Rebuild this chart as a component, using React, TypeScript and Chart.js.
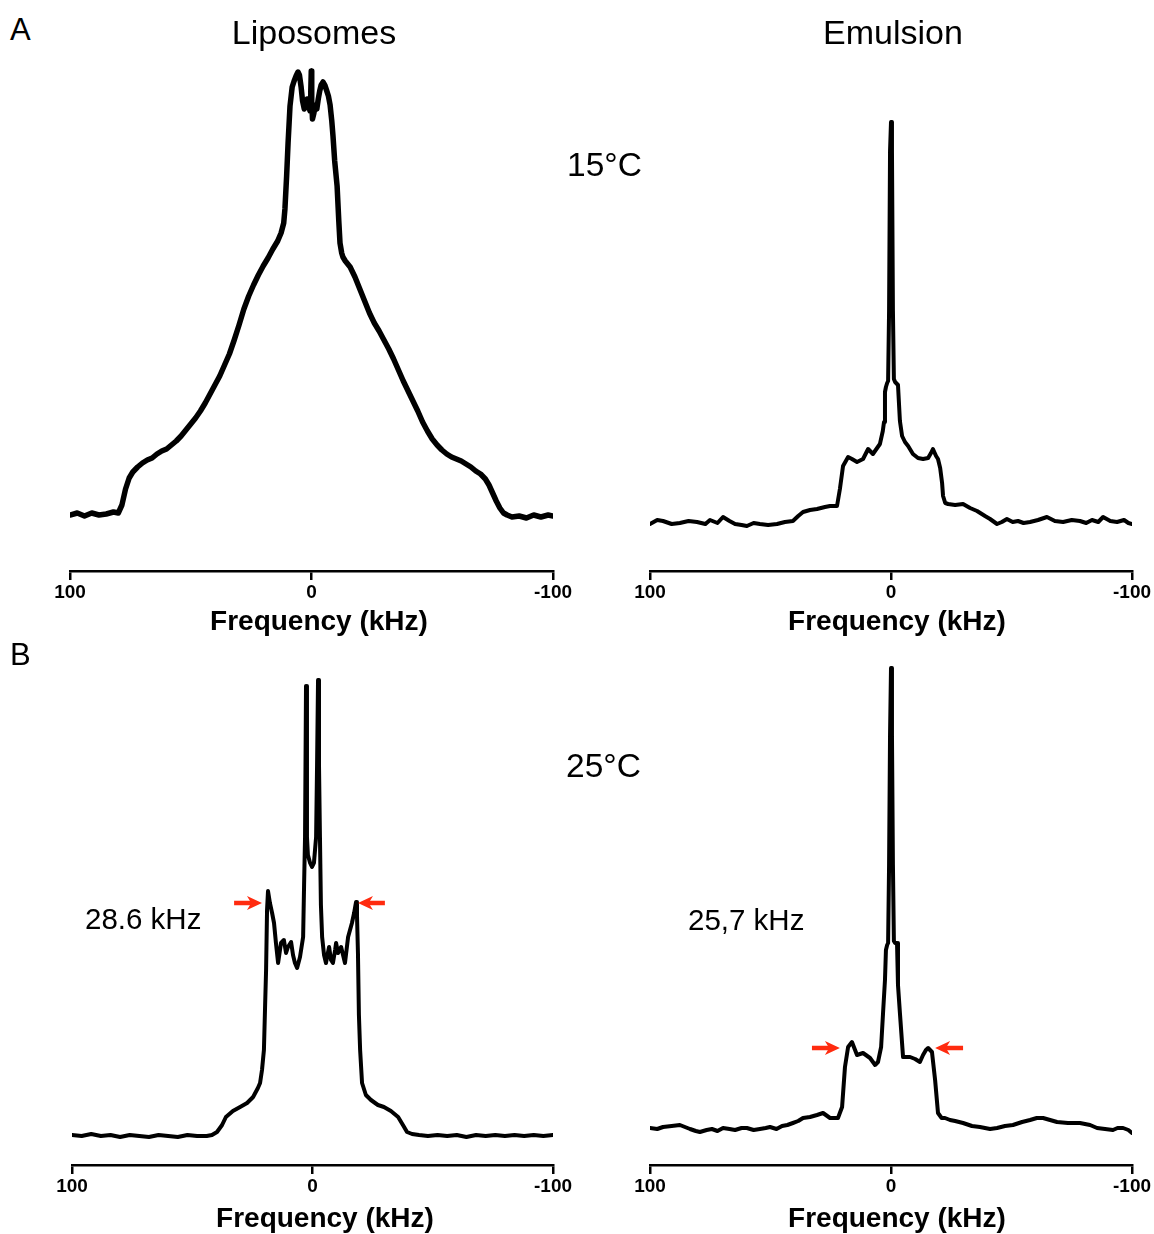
import React, { useEffect, useRef } from "react";
import { Chart, registerables } from "chart.js";

Chart.register(...registerables);

const FONT = '"Liberation Sans", Arial, Helvetica, sans-serif';

// ---------------- DATA ----------------
// x: frequency (kHz), y: signal intensity (a.u., height above the frequency axis)

const xTicks = [100, 0, -100];
const xTitle = "Frequency (kHz)";

// A – Liposomes, 15 °C
const lipo15Freq = [100, 97, 94, 91, 88, 85, 82, 80, 78.5, 77, 75.5, 74, 72, 70, 68, 66, 64, 62, 60, 58, 56, 54, 52, 50, 48, 46, 44, 42, 40, 38, 36, 34, 32, 30, 28, 26, 24, 22, 20, 18, 16, 14, 12.6, 11.5, 11, 10.3, 9.7, 8.9, 8, 7.2, 6.4, 5.6, 5, 4.3, 3.7, 3, 2.4, 1.8, 1.2, 0.6, 0.3, 0.1, -0.1, -0.4, -1, -1.6, -2.2, -2.8, -3.4, -4, -4.8, -5.5, -6.2, -7, -7.7, -8.4, -8.9, -9.6, -10.6, -11.3, -11.8, -12.5, -13, -14, -16, -18, -20, -22, -24, -26, -28, -30, -32, -34, -36, -38, -40, -42, -44, -46, -48, -50, -52, -54, -56, -58, -60, -62, -64, -66, -68, -70, -72, -73.5, -75, -76.5, -78, -79.5, -81, -83, -86, -89, -92, -95, -98, -100];
const lipo15Int = [56, 58, 55, 58, 56, 57, 59, 58, 66, 82, 93, 99, 104, 108, 111, 113, 117, 120, 122, 126, 130, 135, 141, 147, 153, 160, 168, 177, 186, 195, 206, 217, 231, 246, 262, 275, 286, 296, 305, 313, 322, 330, 338, 348, 362, 395, 428, 465, 484, 490, 495, 499, 496, 484, 470, 462, 467, 472, 466, 460, 480, 500, 470, 452, 458, 466, 462, 472, 480, 486, 489, 486, 481, 475, 466, 450, 435, 410, 385, 350, 328, 318, 314, 310, 304, 294, 282, 270, 258, 248, 240, 231, 222, 212, 201, 190, 180, 170, 160, 149, 140, 132, 126, 121, 117, 114, 112, 110, 107, 104, 100, 97, 92, 86, 78, 70, 63, 58, 56, 54, 55, 53, 56, 54, 56, 55];

// A – Emulsion, 15 °C
const emul15Freq = [100, 97, 94.6, 91, 87.6, 84, 80.5, 77, 75.1, 72, 69.7, 67, 64.7, 62, 59.8, 57, 54.4, 51, 47.3, 44, 40.7, 38.5, 36.5, 33.6, 30.7, 27.4, 25.3, 22.4, 21.2, 19.9, 17.8, 16.2, 14.1, 11.6, 9.5, 7.5, 4.6, 3.4, 2.9, 2.5, 2.1, 1.6, 1.2, 0.8, 0.4, 0, -0.4, -0.8, -1.2, -1.7, -2.9, -3.7, -4.6, -5.8, -7.1, -9.1, -11.2, -13.3, -15.4, -16.6, -17.4, -18.7, -19.5, -20.4, -21.2, -21.6, -22.5, -23.7, -26.6, -29.9, -32.8, -35.7, -39, -41.1, -44, -46, -48.1, -50.5, -52.7, -55, -57.7, -61, -64.7, -68, -71.4, -75, -78.4, -81, -83.4, -86, -88, -91, -93.8, -96.7, -98.5, -100];
const emul15Int = [47, 51, 50, 47, 48, 50, 49, 47, 51, 48, 54, 50, 47, 46, 45, 48, 47, 46, 47, 49, 50, 55, 59, 61, 62, 64, 65, 65, 82, 105, 114, 112, 109, 112, 122, 117, 127, 140, 149, 179, 184, 188, 190, 260, 420, 449, 420, 260, 192, 189, 186, 150, 135, 129, 125, 117, 113, 112, 113, 118, 122, 115, 112, 103, 88, 75, 68, 67, 66, 67, 63, 60, 55, 52, 47, 49, 52, 49, 50, 48, 49, 51, 54, 50, 49, 51, 50, 48, 51, 49, 54, 50, 49, 51, 48, 47];

// B – Liposomes, 25 °C
const lipo25Freq = [100, 96, 92, 88, 84, 80, 76, 72, 68, 64, 60, 56, 52, 48, 44, 41.8, 39.7, 37.6, 36, 33.1, 30.1, 27.2, 24.7, 22.7, 21.8, 21, 20.2, 19.7, 19.3, 18.9, 18.5, 17.7, 16.8, 16, 15.2, 14.3, 13.1, 11.9, 11, 10.2, 8.9, 8.1, 7.3, 6.4, 5.2, 3.9, 3.5, 3.1, 2.7, 2.3, 1.9, 1, 0.2, -0.6, -1.5, -1.9, -2.3, -2.7, -3.1, -3.5, -4, -4.8, -5.6, -6.4, -6.9, -7.7, -8.5, -9.4, -9.8, -10.6, -11.9, -12.7, -13.5, -14.3, -14.8, -15.6, -16.4, -17.3, -18.1, -18.5, -18.9, -19.3, -19.8, -20.6, -22.2, -24.3, -27.2, -29.7, -32.6, -35.6, -37.6, -39.3, -41.4, -44.3, -48, -52, -56, -60, -64, -68, -72, -76, -80, -84, -88, -92, -96, -100];
const lipo25Int = [30, 29, 31, 29, 30, 28, 30, 29, 28, 30, 29, 28, 30, 29, 29, 30, 33, 40, 48, 54, 58, 62, 68, 77, 82, 95, 115, 160, 195, 255, 274, 262, 252, 242, 222, 202, 222, 225, 212, 218, 223, 210, 202, 197, 208, 228, 280, 328, 479, 328, 310, 302, 298, 302, 328, 400, 485, 400, 328, 260, 228, 210, 202, 212, 218, 205, 202, 215, 222, 212, 218, 210, 202, 218, 228, 235, 242, 252, 263, 250, 212, 150, 115, 82, 70, 65, 60, 58, 54, 48, 40, 33, 31, 30, 29, 30, 29, 30, 28, 30, 29, 30, 29, 30, 29, 30, 29, 30];

// B – Emulsion, 25 °C
const emul25Freq = [100, 97, 94.6, 91, 87.6, 85.5, 83.4, 81, 79.3, 76.5, 74.3, 72, 69.7, 67, 64.7, 62, 59.8, 57, 54.4, 52, 50.2, 47.5, 45.2, 43, 40.7, 38.5, 36.5, 33.6, 30.7, 28.2, 25.3, 22, 20.3, 19.1, 17.8, 16.2, 14.1, 11.6, 8.7, 6.6, 5.4, 4.1, 3.3, 2.5, 2.1, 1.6, 1.2, 0.8, 0.4, 0, -0.4, -0.8, -1.2, -1.7, -2.5, -2.9, -3.7, -5, -6.2, -7.9, -10, -12, -13.3, -14.5, -15.4, -17, -18.3, -19.5, -21, -22.4, -24.5, -26.6, -29.9, -33.6, -36.9, -39, -41.1, -44, -47.3, -50.6, -54.4, -57.7, -60.5, -63.1, -66, -68.9, -73.4, -78.4, -82.6, -85.5, -88.8, -92.1, -94, -96.3, -98.5, -100];
const emul25Int = [37, 36, 38, 39, 40, 38, 36, 34, 33, 35, 36, 34, 37, 36, 35, 37, 37, 35, 36, 37, 38, 36, 39, 40, 42, 44, 47, 48, 50, 52, 47, 47, 58, 98, 118, 123, 110, 112, 107, 100, 103, 118, 152, 185, 215, 220, 222, 300, 430, 497, 430, 300, 224, 222, 222, 180, 152, 108, 108, 108, 106, 103, 110, 115, 117, 113, 85, 52, 47, 47, 45, 44, 42, 39, 38, 37, 36, 37, 39, 40, 43, 45, 47, 47, 45, 43, 42, 42, 40, 37, 36, 35, 37, 37, 35, 32];

// Splitting markers (red arrows): tail / head frequency (kHz) and level (a.u.)
const lipo25ArrowTail = [32.6, -30.1];
const lipo25ArrowHead = [21.0, -18.9];
const lipo25ArrowLevel = [262, 262];

const emul25ArrowTail = [32.8, -29.9];
const emul25ArrowHead = [21.2, -18.3];
const emul25ArrowLevel = [117, 117];

// ---------------- PLUGIN ----------------
const arrowPlugin = {
  id: "splitArrows",
  afterDatasetsDraw(chart: any, _args: any, opts: any) {
    const items = (opts && opts.items) || [];
    const { ctx } = chart;
    const xs = chart.scales.x;
    const ys = chart.scales.y;
    ctx.save();
    ctx.fillStyle = "#ff2b0f";
    ctx.strokeStyle = "#ff2b0f";
    for (const a of items) {
      const x0 = xs.getPixelForValue(a.tail);
      const x1 = xs.getPixelForValue(a.head);
      const yy = ys.getPixelForValue(a.level);
      const dir = Math.sign(x1 - x0);
      const headLen = 15;
      const headHalf = 7;
      ctx.lineWidth = 4.5;
      ctx.lineCap = "butt";
      ctx.beginPath();
      ctx.moveTo(x0, yy);
      ctx.lineTo(x1 - dir * headLen * 0.6, yy);
      ctx.stroke();
      ctx.beginPath();
      ctx.moveTo(x1, yy);
      ctx.lineTo(x1 - dir * headLen, yy - headHalf);
      ctx.lineTo(x1 - dir * headLen * 0.72, yy);
      ctx.lineTo(x1 - dir * headLen, yy + headHalf);
      ctx.closePath();
      ctx.fill();
    }
    ctx.restore();
  },
};

// ---------------- PANEL ----------------
type PanelProps = {
  freq: number[];
  values: number[];
  yMax: number;
  lineWidth: number;
  axisHeight: number;
  left: number;
  top: number;
  width: number;
  height: number;
  padLeft: number;
  padRight: number;
  arrowTail?: number[];
  arrowHead?: number[];
  arrowLevel?: number[];
};

function Panel(p: PanelProps) {
  const ref = useRef<HTMLCanvasElement | null>(null);
  useEffect(() => {
    if (!ref.current) return;
    const items = (p.arrowTail || []).map((t, i) => ({
      tail: t,
      head: (p.arrowHead || [])[i],
      level: (p.arrowLevel || [])[i],
    }));
    const chart = new Chart(ref.current, {
      type: "line",
      data: {
        datasets: [
          {
            data: p.freq.map((f, i) => ({ x: f, y: p.values[i] })),
            borderColor: "#000000",
            borderWidth: p.lineWidth,
            pointRadius: 0,
            tension: 0,
            fill: false,
            borderJoinStyle: "round",
            borderCapStyle: "round",
          },
        ],
      },
      options: {
        responsive: false,
        animation: false,
        devicePixelRatio: 1,
        layout: { padding: { left: p.padLeft, right: p.padRight, top: 0, bottom: 0 } },
        plugins: {
          legend: { display: false },
          tooltip: { enabled: false },
          splitArrows: { items },
        } as any,
        scales: {
          x: {
            type: "linear",
            reverse: true,
            min: -100,
            max: 100,
            afterBuildTicks: (scale: any) => {
              scale.ticks = xTicks.map((v) => ({ value: v }));
            },
            afterFit: (scale: any) => {
              scale.height = p.axisHeight;
            },
            ticks: {
              color: "#000",
              font: { family: FONT, size: 19, weight: "bold" },
              padding: 1,
              maxRotation: 0,
              autoSkip: false,
              callback: (v: any) => String(v),
            },
            grid: {
              display: true,
              drawOnChartArea: false,
              drawTicks: true,
              tickLength: 9,
              color: "#000",
              lineWidth: 2.5,
            },
            border: { display: true, color: "#000", width: 2.5 },
            title: { display: false },
          },
          y: { display: false, min: 0, max: p.yMax },
        },
      } as any,
      plugins: [arrowPlugin as any],
    });
    return () => chart.destroy();
  }, []);
  return (
    <canvas
      ref={ref}
      width={p.width}
      height={p.height}
      style={{ position: "absolute", left: p.left, top: p.top, width: p.width, height: p.height }}
    />
  );
}

const txt = (fs: number): React.CSSProperties => ({
  position: "absolute",
  fontFamily: FONT,
  fontSize: fs,
  lineHeight: 1,
  color: "#000",
  whiteSpace: "nowrap",
  margin: 0,
});

const axisTitle = (cx: number, top: number): React.CSSProperties => ({
  ...txt(28),
  fontWeight: "bold",
  left: cx - 150,
  width: 300,
  top,
  textAlign: "center",
});

export default function App() {
  return (
    <div
      style={{
        position: "absolute",
        left: 0,
        top: 0,
        width: 1154,
        height: 1234,
        overflow: "hidden",
        background: "#fff",
      }}
    >
      <Panel freq={lipo15Freq} values={lipo15Int} yMax={521} lineWidth={5.5} axisHeight={67}
        left={30} top={50} width={563} height={588} padLeft={40} padRight={40} />
      <Panel freq={emul15Freq} values={emul15Int} yMax={521} lineWidth={4} axisHeight={67}
        left={610} top={50} width={544} height={588} padLeft={40} padRight={22} />
      <Panel freq={lipo25Freq} values={lipo25Int} yMax={515} lineWidth={4} axisHeight={69}
        left={32} top={650} width={561} height={584} padLeft={40} padRight={40}
        arrowTail={lipo25ArrowTail} arrowHead={lipo25ArrowHead} arrowLevel={lipo25ArrowLevel} />
      <Panel freq={emul25Freq} values={emul25Int} yMax={515} lineWidth={4} axisHeight={69}
        left={610} top={650} width={544} height={584} padLeft={40} padRight={22}
        arrowTail={emul25ArrowTail} arrowHead={emul25ArrowHead} arrowLevel={emul25ArrowLevel} />

      <div style={axisTitle(319, 607)}>{xTitle}</div>
      <div style={axisTitle(897, 607)}>{xTitle}</div>
      <div style={axisTitle(325, 1204)}>{xTitle}</div>
      <div style={axisTitle(897, 1204)}>{xTitle}</div>

      <div style={{ ...txt(31), left: 10, top: 14 }}>A</div>
      <div style={{ ...txt(31), left: 10, top: 639 }}>B</div>
      <div style={{ ...txt(34), left: 214, width: 200, top: 15, textAlign: "center" }}>Liposomes</div>
      <div style={{ ...txt(34), left: 793, width: 200, top: 15, textAlign: "center" }}>Emulsion</div>
      <div style={{ ...txt(33.5), left: 567, top: 148 }}>15°C</div>
      <div style={{ ...txt(33.5), left: 566, top: 749 }}>25°C</div>
      <div style={{ ...txt(29.5), left: 85, top: 904 }}>28.6 kHz</div>
      <div style={{ ...txt(29.5), left: 688, top: 905 }}>25,7 kHz</div>
    </div>
  );
}
